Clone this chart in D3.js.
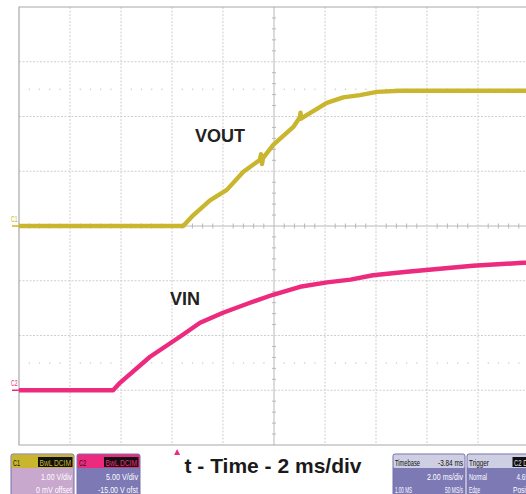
<!DOCTYPE html>
<html>
<head>
<meta charset="utf-8">
<script src="https://cdn.jsdelivr.net/npm/d3@7"></script>
<style>
  body { margin: 0; background: #fff; }
  svg { display: block; }
</style>
</head>
<body>
<svg id="scope" width="526" height="494"></svg>
<script>
// VOUT (C1) in volts, time in ms from left edge of screen
const voutTime  = [0, 6.44, 6.84, 7.49, 8.15, 8.80, 9.45, 9.49, 9.53, 9.57, 9.97, 10.76, 11.02, 11.04, 11.06, 11.41, 12.07, 12.72, 13.37, 14.04, 14.94, 20];
const voutVolts = [0, 0, 0.20, 0.47, 0.66, 0.99, 1.21, 1.31, 1.13, 1.24, 1.48, 1.81, 1.99, 2.07, 1.96, 2.06, 2.25, 2.35, 2.39, 2.45, 2.47, 2.47];

// VIN (C2) in volts
const vinTime  = [0, 3.69, 3.96, 5.14, 6.31, 7.10, 8.00, 9.06, 9.96, 11.02, 12.08, 13.0, 13.88, 15.22, 16.51, 17.80, 19.76, 20];
const vinVolts = [0, 0, 0.68, 3.06, 4.89, 6.16, 7.08, 7.99, 8.72, 9.45, 9.85, 10.1, 10.5, 10.82, 11.1, 11.37, 11.64, 11.66];

// channel settings: volts per division and offset
const chNames   = ["C1", "C2"];
const chVdiv    = [1, 5];
const chOffset  = [0, -15];
const chColors  = ["#c9b52e", "#ec2a7e"];
const chLabels  = ["VOUT", "VIN"];
const chInfo    = [["1.00 V/div", "0 mV offset"], ["5.00 V/div", "-15.00 V ofst"]];

const timebaseInfo = ["Timebase", "-3.84 ms", "2.00 ms/div", "1.00 MS", "50 MS/s"];
const triggerInfo  = ["Trigger", "C2 DC", "Normal", "4.65 V", "Edge", "Positive"];
const triggerTime  = 6.2;

const svg = d3.select("#scope");
const narrow = "'Liberation Sans Narrow', 'Arial Narrow', 'Liberation Sans', sans-serif";

const x = d3.scaleLinear().domain([0, 20]).range([19, 529]);
const yDiv = d3.scaleLinear().domain([-4, 4]).range([445, 7]);
const yCh = (i, v) => yDiv(v / chVdiv[i] + chOffset[i] / chVdiv[i]);

svg.append("clipPath").attr("id", "plotclip")
    .append("rect").attr("x", 19).attr("y", 7).attr("width", 510).attr("height", 438);

const grid = svg.append("g");

// dashed division lines
d3.range(1, 10).filter(d => d !== 5).forEach(d => {
    grid.append("line")
        .attr("x1", x(d * 2)).attr("x2", x(d * 2))
        .attr("y1", yDiv(4)).attr("y2", yDiv(-4))
        .attr("stroke", "#cfcfcf").attr("stroke-dasharray", "2,1.5");
});
d3.range(-3, 4).filter(d => d !== 0).forEach(d => {
    grid.append("line")
        .attr("x1", x(0)).attr("x2", x(20))
        .attr("y1", yDiv(d)).attr("y2", yDiv(d))
        .attr("stroke", "#cfcfcf").attr("stroke-dasharray", "2,1.5");
});

// dotted sub-rows at +/-2.5 div
[-2.5, 2.5].forEach(r => {
    d3.range(0, 50).filter(k => k % 5 !== 0).forEach(k => {
        grid.append("rect")
            .attr("x", x(k * 0.4) - 0.5).attr("y", yDiv(r) - 0.5)
            .attr("width", 1.2).attr("height", 1.2)
            .attr("fill", "#c4c4c4");
    });
});

// centre axes with minor ticks
grid.append("line")
    .attr("x1", x(10)).attr("x2", x(10)).attr("y1", yDiv(4)).attr("y2", yDiv(-4))
    .attr("stroke", "#b8b8b8");
grid.append("line")
    .attr("x1", x(0)).attr("x2", x(20)).attr("y1", yDiv(0)).attr("y2", yDiv(0))
    .attr("stroke", "#b8b8b8");
d3.range(-20, 21).filter(k => k % 5 !== 0).forEach(k => {
    grid.append("line")
        .attr("x1", x(10) - 2).attr("x2", x(10) + 2)
        .attr("y1", yDiv(k / 5)).attr("y2", yDiv(k / 5))
        .attr("stroke", "#b8b8b8");
});
d3.range(0, 50).filter(k => k % 5 !== 0).forEach(k => {
    grid.append("line")
        .attr("x1", x(k * 0.4)).attr("x2", x(k * 0.4))
        .attr("y1", yDiv(0) - 2.5).attr("y2", yDiv(0) + 2.5)
        .attr("stroke", "#b8b8b8");
});

// frame
grid.append("path")
    .attr("d", `M${x(20)},${yDiv(4)}H${x(0)}V${yDiv(-4)}H${x(20)}`)
    .attr("fill", "none").attr("stroke", "#a8a8a8").attr("stroke-width", 1.2);

// traces
const traces = [
    { i: 0, t: voutTime, v: voutVolts },
    { i: 1, t: vinTime, v: vinVolts }
];
const plot = svg.append("g").attr("clip-path", "url(#plotclip)");
traces.forEach(tr => {
    const pts = tr.t.map((t, k) => [t, tr.v[k]]);
    const line = d3.line().x(d => x(d[0])).y(d => yCh(tr.i, d[1]));
    plot.append("path")
        .attr("d", line(pts))
        .attr("fill", "none")
        .attr("stroke", chColors[tr.i])
        .attr("stroke-width", 4.4)
        .attr("stroke-linejoin", "round");
});

// small squeezed text helper
function txt(g, tx, ty, s, fill, anchor, len, size) {
    const t = g.append("text").attr("x", tx).attr("y", ty)
        .attr("text-anchor", anchor || "start")
        .attr("font-family", narrow).attr("font-size", size || 9.5)
        .attr("fill", fill).text(s);
    if (len) t.attr("textLength", len).attr("lengthAdjust", "spacingAndGlyphs");
    return t;
}

// channel ground markers
chNames.forEach((name, i) => {
    const gy = yCh(i, 0);
    svg.append("line")
        .attr("x1", 12).attr("x2", 19).attr("y1", gy).attr("y2", gy)
        .attr("stroke", chColors[i]).attr("stroke-width", 1.5);
    txt(svg, 11, gy - 4, name, chColors[i], "start", 6.5, 9);
});

// trace labels
svg.append("text").attr("x", 195).attr("y", 142)
    .attr("font-family", "'Liberation Sans', Arial, sans-serif").attr("font-weight", "bold")
    .attr("font-size", 18).attr("fill", "#222").text(chLabels[0]);
svg.append("text").attr("x", 170).attr("y", 305)
    .attr("font-family", "'Liberation Sans', Arial, sans-serif").attr("font-weight", "bold")
    .attr("font-size", 18).attr("fill", "#222").text(chLabels[1]);

// trigger position marker
const tx = x(triggerTime);
svg.append("path")
    .attr("d", `M${tx - 3},455 L${tx},449 L${tx + 3},455 Z`)
    .attr("fill", chColors[1]);

// axis title
svg.append("text")
    .attr("x", 273).attr("y", 473)
    .attr("text-anchor", "middle")
    .attr("font-family", "'Liberation Sans', Arial, sans-serif")
    .attr("font-weight", "bold").attr("font-size", 21)
    .attr("fill", "#1a1a1a")
    .text("t - Time - 2 ms/div");

// info boxes
function infoBox(bx, bw, headFill, bodyFill) {
    const g = svg.append("g");
    g.append("rect").attr("x", bx).attr("y", 454).attr("width", bw).attr("height", 44)
        .attr("rx", 2).attr("fill", bodyFill).attr("stroke", "#7471ab").attr("stroke-width", 1);
    g.append("rect").attr("x", bx + 0.5).attr("y", 454.5).attr("width", bw - 1).attr("height", 13.5)
        .attr("rx", 1.5).attr("fill", headFill);
    return g;
}

const chBoxX = [11, 77];
const chBodyFill = ["#c9a8cd", "#7c79b5"];
const chInfoLen = [[31, 36], [32, 40]];
chNames.forEach((name, i) => {
    const bx = chBoxX[i], bw = 63;
    const g = infoBox(bx, bw, chColors[i], chBodyFill[i]);
    txt(g, bx + 2, 465.5, name, "#111", "start", 7);
    g.append("rect").attr("x", bx + 27).attr("y", 457).attr("width", 34.5).attr("height", 10)
        .attr("fill", "#111");
    txt(g, bx + 28.5, 465.5, "BwL DCIM", chColors[i], "start", 31.5, 9);
    txt(g, bx + bw - 2, 479.5, chInfo[i][0], "#fff", "end", chInfoLen[i][0]);
    txt(g, bx + bw - 2, 492.5, chInfo[i][1], "#fff", "end", chInfoLen[i][1]);
});

const tb = infoBox(393, 72, "#cfcfe3", "#7c79b5");
txt(tb, 395, 465.5, timebaseInfo[0], "#111", "start", 25);
txt(tb, 463, 465.5, timebaseInfo[1], "#111", "end", 25);
txt(tb, 463, 479.5, timebaseInfo[2], "#fff", "end", 36);
txt(tb, 395, 492.5, timebaseInfo[3], "#fff", "start", 17);
txt(tb, 463, 492.5, timebaseInfo[4], "#fff", "end", 18);

const tg = infoBox(467, 72, "#cfcfe3", "#7c79b5");
txt(tg, 469, 465.5, triggerInfo[0], "#111", "start", 20);
tg.append("rect").attr("x", 512.5).attr("y", 457).attr("width", 22).attr("height", 10).attr("fill", "#111");
txt(tg, 514, 465.5, triggerInfo[1], "#ddd", "start", 18, 9);
txt(tg, 469, 479.5, triggerInfo[2], "#fff", "start", 18);
txt(tg, 516.5, 479.5, triggerInfo[3], "#fff", "start", 18);
txt(tg, 469, 492.5, triggerInfo[4], "#fff", "start", 11);
txt(tg, 513, 492.5, triggerInfo[5], "#fff", "start", 23);
</script>
</body>
</html>
